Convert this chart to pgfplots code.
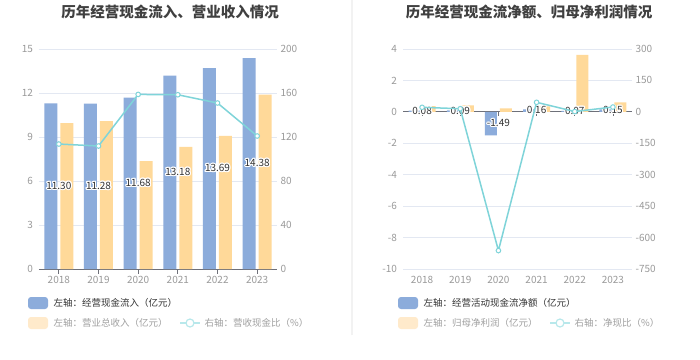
\documentclass[border=0pt]{standalone}
\usepackage{fontspec}
\setmainfont{Noto Sans CJK SC}
\usepackage{pgfplots}
\pgfplotsset{compat=1.18}
\usepackage[copies]{contour}
\contourlength{1.1pt}
\definecolor{bblue}{HTML}{8CACDB}
\definecolor{borange}{HTML}{FFD999}
\definecolor{lc}{HTML}{7FD4D9}
\definecolor{gridc}{HTML}{E3E8F2}
\definecolor{axisc}{HTML}{6E7079}
\definecolor{ticklab}{HTML}{9A9A9A}
\definecolor{labtxt}{HTML}{333333}
\definecolor{titlec}{HTML}{404040}
\definecolor{leg1}{HTML}{333333}
\definecolor{leg2}{HTML}{A0A0A0}
\definecolor{olight}{HTML}{FFEACB}
\definecolor{llight}{HTML}{B8E8EB}
\definecolor{divc}{HTML}{F2F2F2}
\pgfplotsset{
  base/.style={scale only axis, height=220pt, anchor=south west,
    xmin=-0.5, xmax=5.5, axis line style={draw=none}, tick style={draw=none},
    tick label style={font=\fontsize{10}{12}\selectfont, text=ticklab},
    /pgf/number format/assume math mode=true,
    xtick={0,...,5}, clip=false,
    yticklabel style={xshift=-2.5pt},
  },
}
\begin{document}
\begin{tikzpicture}
\useasboundingbox (0pt,0pt) rectangle (700pt,359pt);
\fill[white] (0pt,0pt) rectangle (700pt,359pt);
\draw[divc, line width=1.5pt] (352pt,24pt) -- (352pt,359pt);
% titles
\node[font=\bfseries\fontsize{14.5}{16}\selectfont, text=titlec] at (170pt,347pt) {历年经营现金流入、营业收入情况};
\node[font=\bfseries\fontsize{14.5}{16}\selectfont, text=titlec] at (529pt,347pt) {历年经营现金流净额、归母净利润情况};

% ---------- left chart ----------
\begin{axis}[base, at={(39pt,90pt)}, width=238pt,
  ymin=0, ymax=15, ytick={0,3,...,15}, ymajorgrids,
  grid style={gridc, line width=0.8pt},
  extra y ticks={0}, extra y tick labels={},
  extra y tick style={grid style={axisc, line width=0.9pt}},
  xticklabels={2018,2019,2020,2021,2022,2023},
  xticklabel style={yshift=-4pt},
]
\addplot[ybar, bar width=13pt, bar shift=-8pt, fill=bblue, draw=none,
  point meta=explicit symbolic,
  visualization depends on={rawy \as \ry},
  nodes near coords={\contour{white}{\pgfplotspointmeta}},
  nodes near coords style={anchor=center, yshift={-7.3333*\ry}, font=\fontsize{10}{12}\selectfont, text=labtxt}]
  coordinates {(0,11.30)[11.30] (1,11.28)[11.28] (2,11.68)[11.68] (3,13.18)[13.18] (4,13.69)[13.69] (5,14.38)[14.38]};
\addplot[ybar, bar width=13pt, bar shift=8pt, fill=borange, draw=none]
  coordinates {(0,9.95) (1,10.09) (2,7.36) (3,8.32) (4,9.07) (5,11.89)};
\pgfplotsinvokeforeach{0,...,5}{\draw[axisc, line width=0.8pt] (axis cs:#1,0) -- ++(0pt,-4.5pt);}
\end{axis}
\begin{axis}[base, at={(39pt,90pt)}, width=238pt,
  ymin=0, ymax=200, ytick={0,40,...,200}, yticklabel pos=right,
  yticklabel style={xshift=2.5pt},
  xticklabels={}, 
]
\addplot[lc, line width=1.5pt, mark=*, mark size=2.3pt, mark options={fill=white, draw=lc, line width=1pt}]
  coordinates {(0,113.6) (1,111.8) (2,158.7) (3,158.4) (4,150.9) (5,120.9)};
\end{axis}

% ---------- right chart ----------
\begin{axis}[base, at={(403pt,90pt)}, width=229pt,
  ymin=-10, ymax=4, ytick={-10,-8,...,4}, ymajorgrids,
  grid style={gridc, line width=0.8pt},
  extra y ticks={0}, extra y tick labels={},
  extra y tick style={grid style={axisc, line width=0.9pt}},
  xticklabels={2018,2019,2020,2021,2022,2023},
  xticklabel style={yshift=-4pt},
]
\addplot[ybar, bar width=12pt, bar shift=7.5pt, fill=borange, draw=none]
  coordinates {(0,0.37) (1,0.42) (2,0.22) (3,0.35) (4,3.62) (5,0.61)};
\addplot[ybar, bar width=12pt, bar shift=-7.5pt, fill=bblue, draw=none,
  point meta=explicit symbolic,
  visualization depends on={rawy \as \ry},
  nodes near coords={\contour{white}{\pgfplotspointmeta}},
  nodes near coords style={anchor=center, yshift={-7.857*\ry}, font=\fontsize{10}{12}\selectfont, text=labtxt}]
  coordinates {(0,0.08)[0.08] (1,0.09)[0.09] (2,-1.49)[-1.49] (3,0.16)[0.16] (4,0.07)[0.07] (5,0.15)[0.15]};
\pgfplotsinvokeforeach{0,...,5}{\draw[axisc, line width=0.8pt] (axis cs:#1,0) -- ++(0pt,-4.5pt);}
\end{axis}
\begin{axis}[base, at={(403pt,90pt)}, width=229pt,
  ymin=-750, ymax=300, ytick={-750,-600,...,300}, yticklabel pos=right,
  yticklabel style={xshift=2.5pt},
  xticklabels={},
]
\addplot[lc, line width=1.5pt, mark=*, mark size=2.3pt, mark options={fill=white, draw=lc, line width=1pt}]
  coordinates {(0,21.6) (1,15) (2,-662) (3,45.5) (4,1.5) (5,23)};
\end{axis}

% ---------- legends ----------
\begin{scope}[every node/.style={font=\fontsize{9.5}{11}\selectfont, anchor=west}]
\fill[bblue, rounded corners=3pt] (28pt,50pt) rectangle (48pt,62pt);
\node[text=leg1] at (50pt,56pt) {左轴：经营现金流入（亿元）};
\fill[olight, rounded corners=3pt] (28pt,30pt) rectangle (48pt,42pt);
\node[text=leg2] at (50pt,36pt) {左轴：营业总收入（亿元）};
\draw[llight, line width=1.5pt] (180pt,36pt) -- (200pt,36pt);
\draw[llight, fill=white, line width=1.2pt] (190pt,36pt) circle (4pt);
\node[text=leg2] at (201pt,36pt) {右轴：营收现金比（\%）};

\fill[bblue, rounded corners=3pt] (398pt,50pt) rectangle (418pt,62pt);
\node[text=leg1] at (420pt,56pt) {左轴：经营活动现金流净额（亿元）};
\fill[olight, rounded corners=3pt] (398pt,30pt) rectangle (418pt,42pt);
\node[text=leg2] at (420pt,36pt) {左轴：归母净利润（亿元）};
\draw[llight, line width=1.5pt] (550pt,36pt) -- (570pt,36pt);
\draw[llight, fill=white, line width=1.2pt] (560pt,36pt) circle (4pt);
\node[text=leg2] at (571pt,36pt) {右轴：净现比（\%）};
\end{scope}
\end{tikzpicture}
\end{document}
